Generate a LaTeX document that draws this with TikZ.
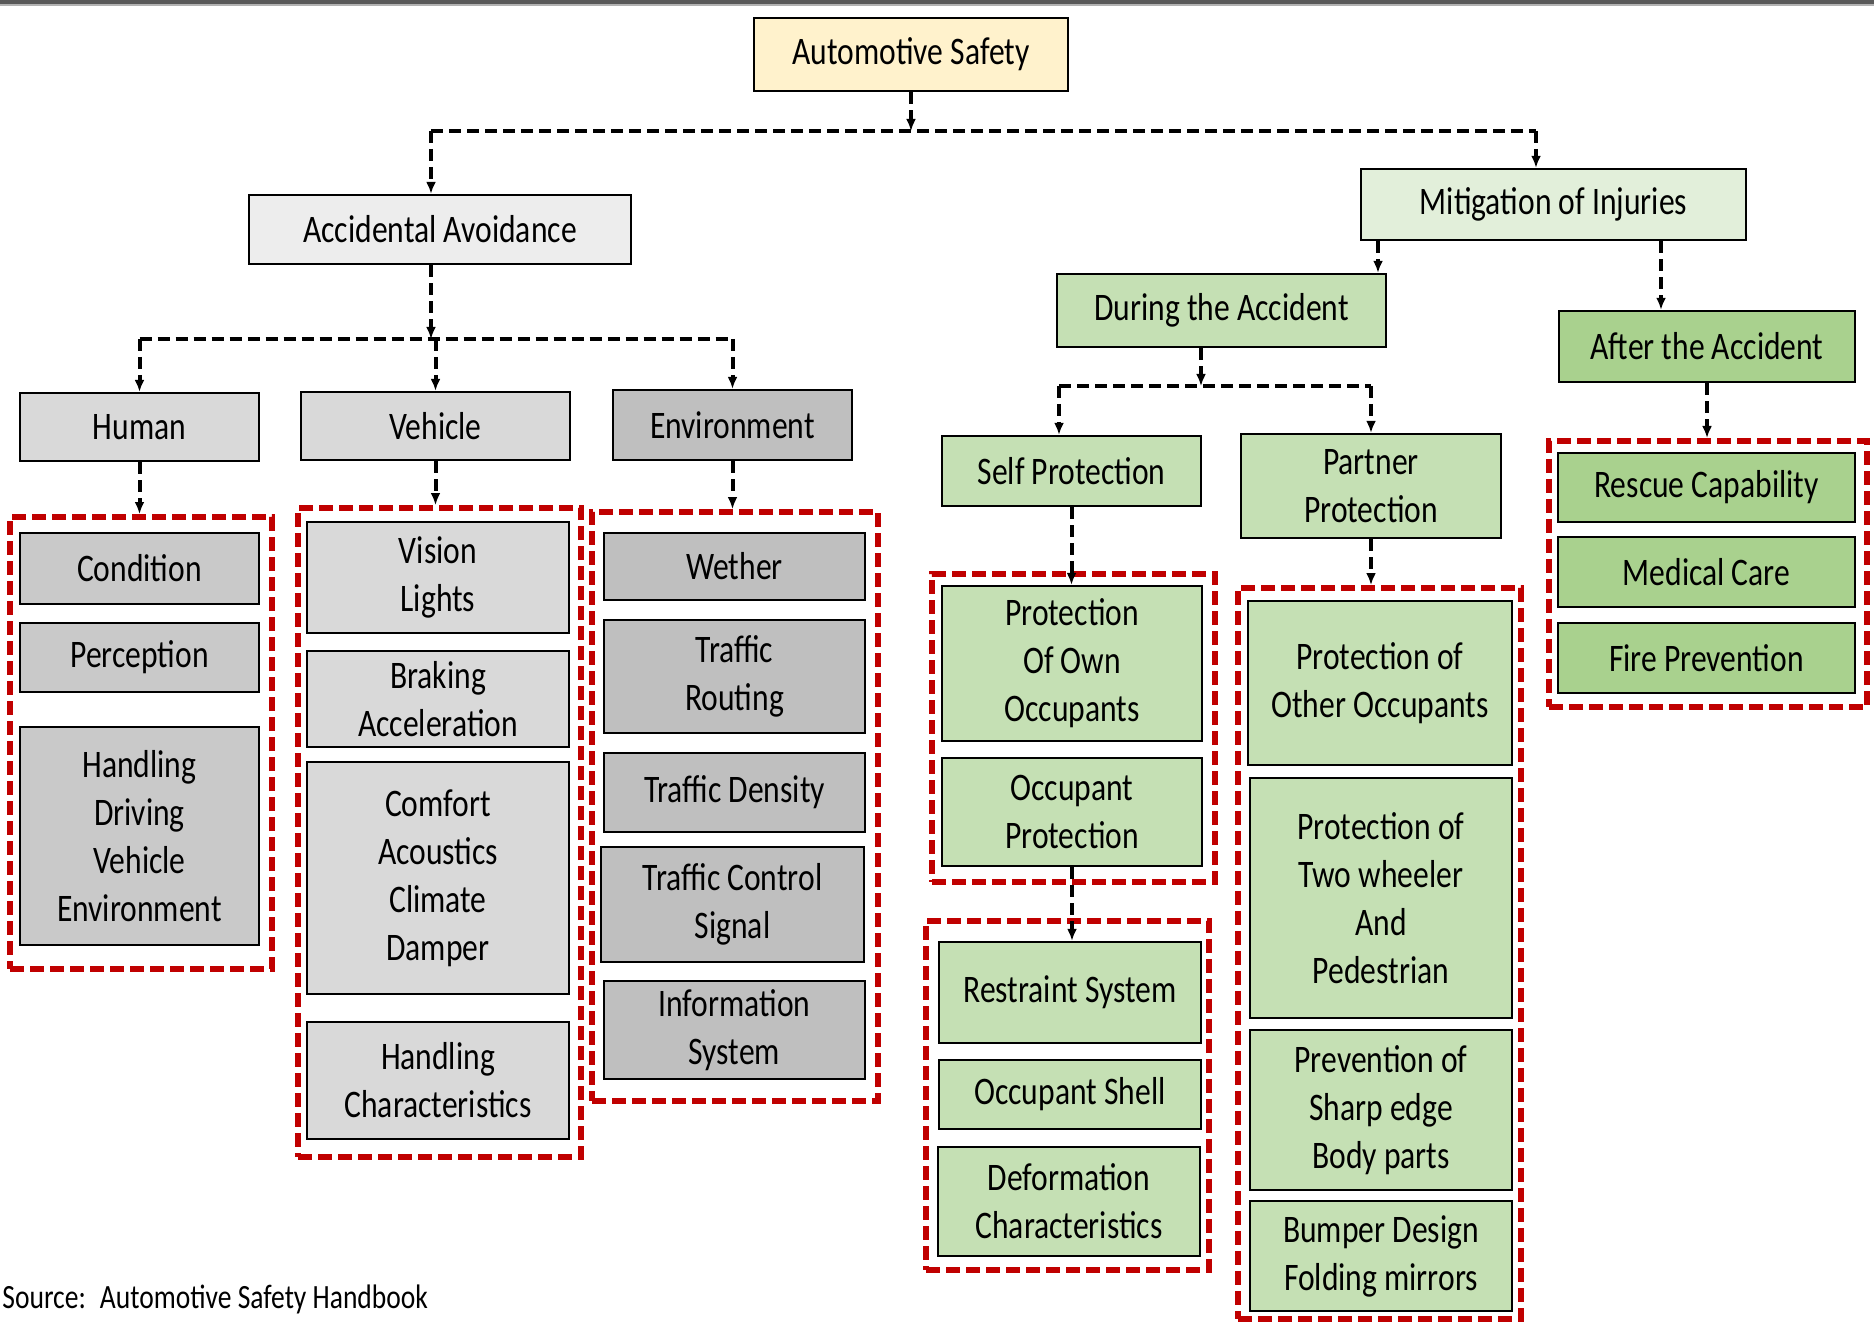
\documentclass[tikz,border=0pt]{standalone}
\usepackage{fontspec}
\setmainfont{Carlito}[FakeStretch=0.81]
\usepackage{xcolor}
\usepackage{tikz}
\usetikzlibrary{positioning, arrows.meta, fit}
\definecolor{topYellow}{HTML}{FFF2CC}
\definecolor{avoidGray}{HTML}{EDEDED}
\definecolor{midGray}{HTML}{D9D9D9}
\definecolor{humanGray}{HTML}{C9C9C9}
\definecolor{envGray}{HTML}{BFBFBF}
\definecolor{paleGreen}{HTML}{E2EFDA}
\definecolor{midGreen}{HTML}{C5E0B4}
\definecolor{darkGreen}{HTML}{A9D18E}
\definecolor{groupRed}{HTML}{C00000}
\definecolor{barGray}{HTML}{595959}
\tikzset{
    corners/.style args={#1/#2/#3/#4}{at={({(#1+#3)/2},{(#2+#4)/2})}, minimum width={(#3-#1)*0.5pt}, minimum height={(#4-#2)*0.5pt}},
    box/.style={rectangle, draw=black, line width=1.2pt, align=center, inner sep=0pt, font=\fontsize{19.5}{24}\selectfont},
    group/.style={rectangle, draw=groupRed, line width=3pt, dash pattern=on 7pt off 3pt, inner sep=0pt},
    link/.style={draw=black, line width=2pt, dash pattern=on 6pt off 3pt},
    arrow/.style={link, -{Latex[length=6pt, width=5pt]}},
    note/.style={font=\fontsize{17}{20}\selectfont, inner sep=0pt}
}

\begin{document}
\begin{tikzpicture}[x=0.5pt, y=-0.5pt]
    \useasboundingbox (0,0) rectangle (1874,1326);
    \fill[barGray] (0,0) rectangle (1874,4);
    \fill[gray!60] (0,4) rectangle (1874,6);

    % Top levels
    \node[box, fill=topYellow, corners=754/18/1068/91] (safety) {Automotive Safety};
    \node[box, fill=avoidGray, corners=249/195/631/264] (avoid) {Accidental Avoidance};
    \node[box, fill=paleGreen, corners=1361/169/1746/240] (mitig) {Mitigation of Injuries};
    \node[box, fill=midGreen, corners=1057/274/1386/347] (during) {During the Accident};
    \node[box, fill=darkGreen, corners=1559/311/1855/382] (after) {After the Accident};
    \node[box, fill=midGray, corners=20/393/259/461] (human) {Human};
    \node[box, fill=midGray, corners=301/392/570/460] (vehicle) {Vehicle};
    \node[box, fill=envGray, corners=613/390/852/460] (environ) {Environment};
    \node[box, fill=midGreen, corners=942/436/1201/506] (selfp) {Self Protection};
    \node[box, fill=midGreen, corners=1241/434/1501/538] (partner) {Partner\\Protection};

    % Groups
    \node[group, fit={(10,517) (272,969)}] (hgrp) {};
    \node[group, fit={(298,508) (581,1157)}] (vgrp) {};
    \node[group, fit={(592,512) (878,1101)}] (egrp) {};
    \node[group, fit={(932,574) (1215,882)}] (sgrp) {};
    \node[group, fit={(926,921) (1209,1270)}] (rgrp) {};
    \node[group, fit={(1238,588) (1521,1319)}] (pgrp) {};
    \node[group, fit={(1549,441) (1867,707)}] (agrp) {};

    % Human
    \node[box, fill=humanGray, corners=20/533/259/604] (cond) {Condition};
    \node[box, fill=humanGray, corners=20/623/259/692] (perc) {Perception};
    \node[box, fill=humanGray, corners=20/727/259/945] (handl) {Handling\\Driving\\Vehicle\\Environment};

    % Vehicle
    \node[box, fill=midGray, corners=307/522/569/633] (vision) {Vision\\Lights};
    \node[box, fill=midGray, corners=307/651/569/747] (braking) {Braking\\Acceleration};
    \node[box, fill=midGray, corners=307/762/569/994] (comfort) {Comfort\\Acoustics\\Climate\\Damper};
    \node[box, fill=midGray, corners=307/1022/569/1139] (hchar) {Handling\\Characteristics};

    % Environment
    \node[box, fill=envGray, corners=604/533/865/600] (wether) {Wether};
    \node[box, fill=envGray, corners=604/620/865/733] (troute) {Traffic\\Routing};
    \node[box, fill=envGray, corners=604/753/865/832] (tdens) {Traffic Density};
    \node[box, fill=envGray, corners=601/847/864/962] (tctrl) {Traffic Control\\Signal};
    \node[box, fill=envGray, corners=604/981/865/1079] (info) {Information\\System};

    % Self protection
    \node[box, fill=midGreen, corners=942/586/1202/741] (ownocc) {Protection\\Of Own\\Occupants};
    \node[box, fill=midGreen, corners=942/758/1202/866] (occprot) {Occupant\\Protection};
    \node[box, fill=midGreen, corners=939/942/1201/1043] (restr) {Restraint System};
    \node[box, fill=midGreen, corners=939/1060/1201/1129] (shell) {Occupant Shell};
    \node[box, fill=midGreen, corners=938/1147/1200/1256] (deform) {Deformation\\Characteristics};

    % Partner protection
    \node[box, fill=midGreen, corners=1248/601/1512/765] (otherocc) {Protection of\\Other Occupants};
    \node[box, fill=midGreen, corners=1250/778/1512/1018] (twowh) {Protection of\\Two wheeler\\And\\Pedestrian};
    \node[box, fill=midGreen, corners=1250/1030/1512/1190] (sharp) {Prevention of\\Sharp edge\\Body parts};
    \node[box, fill=midGreen, corners=1250/1201/1512/1311] (bumper) {Bumper Design\\Folding mirrors};

    % After the accident
    \node[box, fill=darkGreen, corners=1558/453/1855/522] (rescue) {Rescue Capability};
    \node[box, fill=darkGreen, corners=1558/537/1855/607] (medic) {Medical Care};
    \node[box, fill=darkGreen, corners=1558/623/1855/693] (fire) {Fire Prevention};

    \node[note, anchor=west] (source) at (2,1299) {Source:\, Automotive Safety Handbook};

    % Connectors
    \coordinate (jTop) at (911,131);
    \coordinate (jAv) at (431,131);
    \coordinate (jMi) at (1536,131);
    \draw[arrow] (safety.south) -- (jTop);
    \draw[link] (jAv) -- (jMi);
    \draw[arrow] (jAv) -- (jAv |- avoid.north);
    \draw[arrow] (jMi) -- (jMi |- mitig.north);

    \coordinate (jAv2) at (431,339);
    \draw[arrow] (jAv2 |- avoid.south) -- (jAv2);
    \draw[link] (human.north |- jAv2) -- (environ.north |- jAv2);
    \foreach \n in {human, vehicle, environ}
        \draw[arrow] (\n.north |- jAv2) -- (\n.north);

    \coordinate (mL) at (1378,0);
    \coordinate (mR) at (1661,0);
    \draw[arrow] (mL |- mitig.south) -- (mL |- during.north);
    \draw[arrow] (mR |- mitig.south) -- (mR |- after.north);

    \coordinate (jDu) at (1201,386);
    \coordinate (sL) at (1059,386);
    \draw[arrow] (jDu |- during.south) -- (jDu);
    \draw[link] (sL) -- (partner.north |- jDu);
    \draw[arrow] (sL) -- (sL |- selfp.north);
    \draw[arrow] (partner.north |- jDu) -- (partner.north);

    \draw[arrow] (human.south) -- (human.south |- hgrp.north);
    \draw[arrow] (vehicle.south) -- (vehicle.south |- vgrp.north);
    \draw[arrow] (environ.south) -- (environ.south |- egrp.north);
    \draw[arrow] (selfp.south) -- (selfp.south |- ownocc.north);
    \draw[arrow] (partner.south) -- (partner.south |- pgrp.north);
    \draw[arrow] (after.south) -- (after.south |- agrp.north);
    \draw[arrow] (occprot.south) -- (occprot.south |- restr.north);
\end{tikzpicture}
\end{document}
